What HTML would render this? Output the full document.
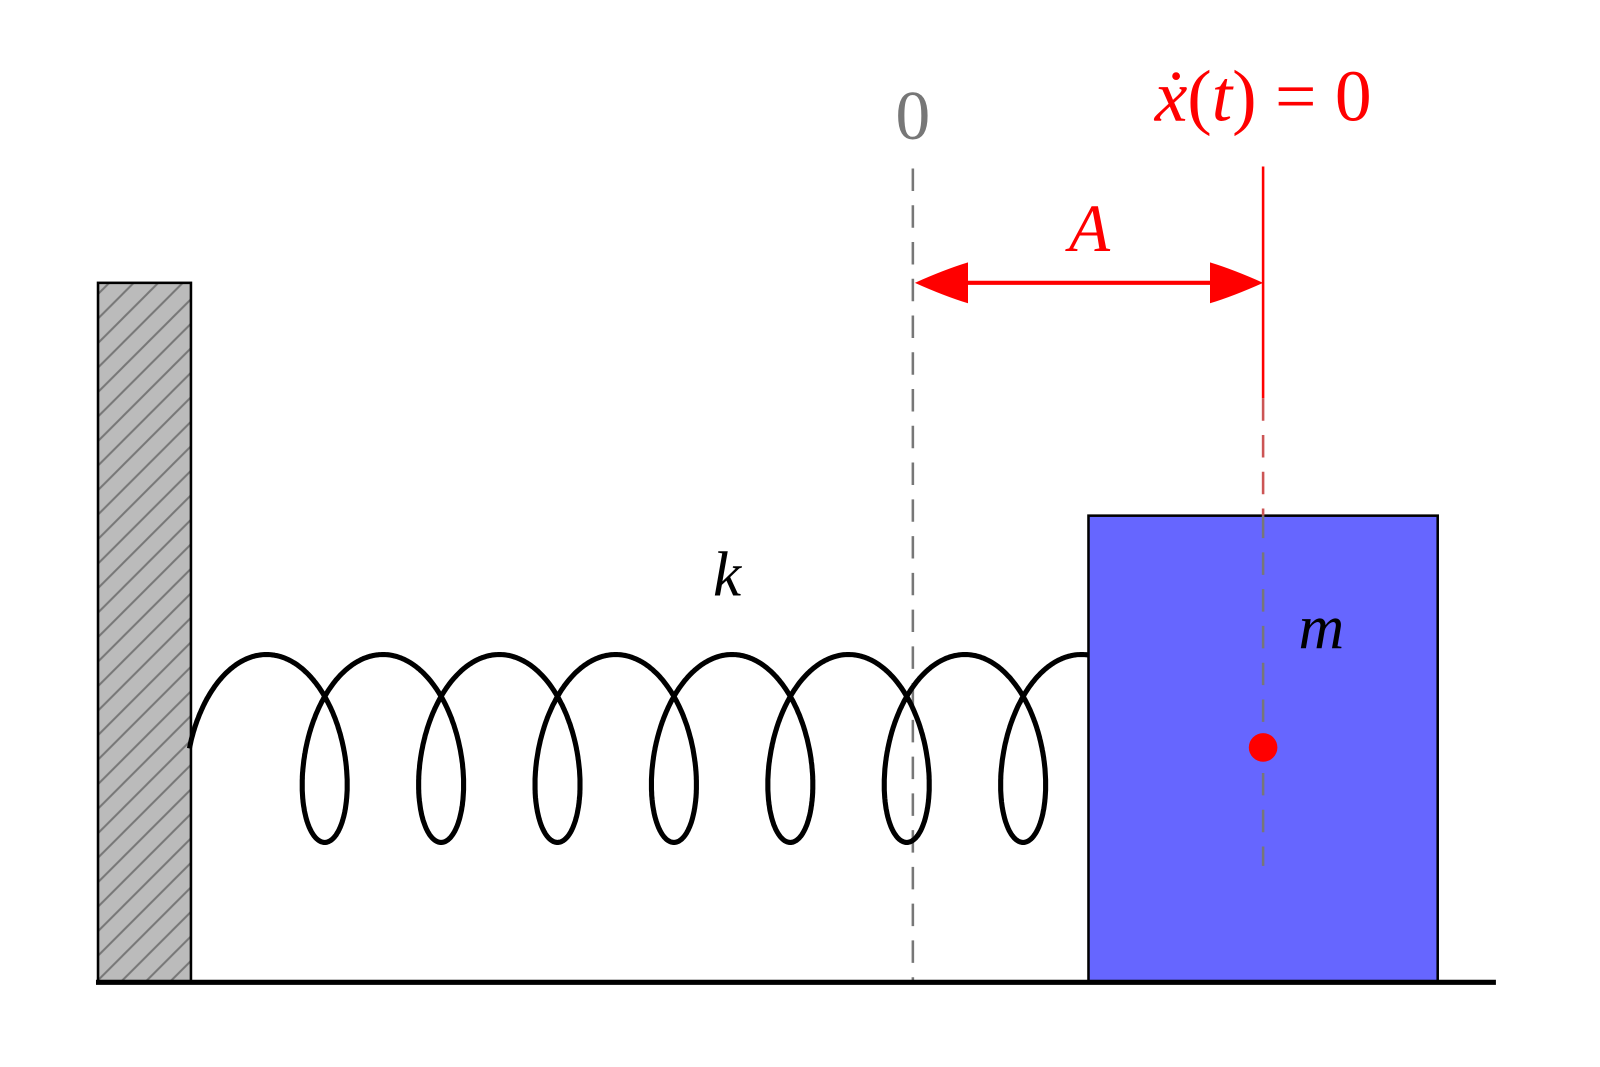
<!DOCTYPE html>
<html><head><meta charset="utf-8"><style>
html,body{margin:0;padding:0;background:#fff;}
svg{display:block;}
text{font-family:"Liberation Serif",serif;}
</style></head><body>
<svg id="s" width="1600" height="1067" viewBox="0 0 1600 1067" xmlns="http://www.w3.org/2000/svg">
<defs>
<pattern id="h" patternUnits="userSpaceOnUse" width="24" height="24">
<path d="M-6,30 L30,-6 M-6,6 L6,-6 M18,30 L30,18" stroke="#777" stroke-width="2"/>
</pattern>
</defs>
<g transform="scale(1.0211)">
<rect x="96" y="277" width="91" height="685" fill="#bbb"/>
<rect x="96" y="277" width="91" height="685" fill="url(#h)"/>
<rect x="96" y="277" width="91" height="685" fill="none" stroke="#000" stroke-width="2.5"/>
<rect x="1066" y="505" width="342" height="457" fill="#6666ff" stroke="#000" stroke-width="2.5"/>
<line x1="894" y1="165" x2="894" y2="962" stroke="#777" stroke-width="2.5" stroke-dasharray="22,14"/>
<line x1="1237" y1="163" x2="1237" y2="390" stroke="#f00" stroke-width="2.5"/>
<line x1="1237" y1="390" x2="1237" y2="505" stroke="#c55" stroke-width="2.5" stroke-dasharray="22,14"/>
<line x1="1237" y1="505" x2="1237" y2="848" stroke="#777" stroke-width="2.5" stroke-dasharray="22,14"/>
<circle cx="1237" cy="732" r="14" fill="#f00"/>
<path id="sp" fill="none" stroke="#000" stroke-width="5"/>
<line x1="94" y1="962" x2="1465" y2="962" stroke="#000" stroke-width="5"/>
<line x1="940" y1="277" x2="1192" y2="277" stroke="#f00" stroke-width="4"/>
<path d="M896,277 Q925,264 948,257 L948,297 Q925,290 896,277 Z" fill="#f00"/>
<path d="M1237,277 Q1208,264 1185,257 L1185,297 Q1208,290 1237,277 Z" fill="#f00"/>
<text x="894" y="136" font-size="68" fill="#777" text-anchor="middle">0</text>
<text x="1237" y="118" font-size="72" fill="#f00" text-anchor="middle"><tspan font-style="italic">ẋ</tspan>(<tspan font-style="italic">t</tspan>) = 0</text>
<text x="1067" y="246" font-size="66" fill="#f00" font-style="italic" text-anchor="middle">A</text>
<text x="712" y="583" font-size="62" fill="#000" font-style="italic" text-anchor="middle">k</text>
<text x="1294" y="635" font-size="62" fill="#000" font-style="italic" text-anchor="middle">m</text>
</g>
</svg>
<script>
var d="",first=true;
for(var th=-Math.PI/2;th<=14*Math.PI+0.12;th+=0.02){
 var x=261+114*th/(2*Math.PI)+47*Math.sin(th);
 var y=733-92*Math.cos(th);
 d+=(first?"M":"L")+x.toFixed(1)+","+y.toFixed(1);first=false;
}
document.getElementById("sp").setAttribute("d",d);
</script>
</body></html>
